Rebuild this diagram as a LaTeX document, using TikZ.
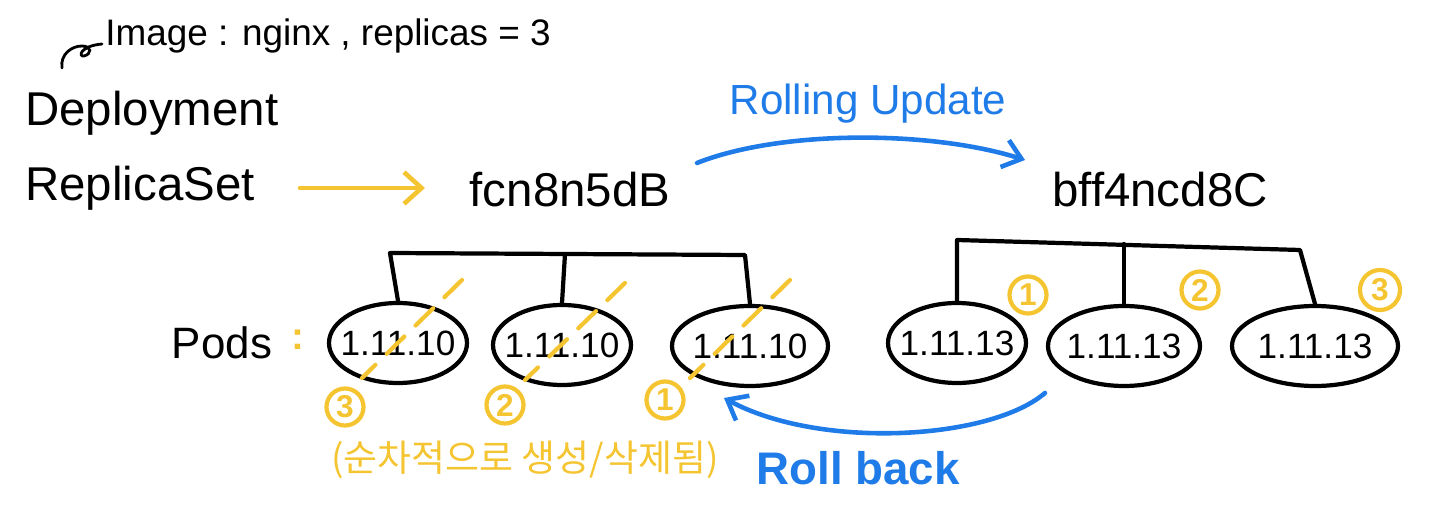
\documentclass[tikz,border=0pt]{standalone}
\usepackage{fontspec}
\setmainfont{Liberation Sans}
\newfontfamily\krfont{Noto Sans CJK KR}
\usetikzlibrary{shapes.geometric,arrows.meta}
\definecolor{hyellow}{HTML}{F5C431}
\definecolor{hblue}{HTML}{1E7BE8}
\newlength{\pxu}
\setlength{\pxu}{0.02cm}
\tikzset{
  lbl/.style={inner sep=0pt, font=\fontsize{27}{30}\selectfont},
  pod/.style={ellipse, draw=black, line width=2.4pt, minimum width=138\pxu, minimum height=80\pxu, inner xsep=-6pt, inner ysep=0pt, font=\fontsize{20}{22}\selectfont},
  tree/.style={draw=black, line width=2.4pt, line cap=round, line join=round},
  ynum/.style={circle, draw=hyellow, line width=2.4pt, text=hyellow, inner sep=0pt, minimum size=37\pxu, font=\bfseries\fontsize{18}{19}\selectfont},
  ydash/.style={draw=hyellow, line width=2.4pt, dash pattern=on 14pt off 9pt, line cap=round},
  barrow/.style={draw=hblue, line width=2.6pt, line cap=round, -{Straight Barb[length=10pt,width=16pt,line width=2.6pt]}},
  yarrow/.style={draw=hyellow, line width=2.6pt, line cap=round, -{Straight Barb[length=10pt,width=18pt,line width=2.6pt]}}
}
\begin{document}
\begin{tikzpicture}[x=0.02cm,y=-0.02cm]
\useasboundingbox (0,0) rectangle (1440,516);
% header
\node[lbl, font=\fontsize{21}{23}\selectfont, anchor=west] (img) at (105,36) {Image : nginx , replicas = 3};
\coordinate (hookA) at (102,44);
\coordinate (hookB) at (62,68);
\draw[black, line width=1.6pt, line cap=round] (hookB) .. controls (60,54) and (72,46) .. (82,46) .. controls (92,46) and (92,54) .. (84,56) .. controls (78,57) and (80,46) .. (hookA);
\node[lbl, anchor=west] (dep) at (25,113) {Deployment};
\node[lbl, anchor=west] (rs) at (25,188) {ReplicaSet};
\node[lbl] (old) at (570,190) {fcn8n5dB};
\node[lbl] (new) at (1160,190) {bff4ncd8C};
\coordinate (ya) at (300,188);
\coordinate (yb) at (425,188);
\draw[yarrow] (ya) -- (yb);
% rolling update
\coordinate (ru1) at (697,163);
\coordinate (ru2) at (1025,160);
\draw[barrow] (ru1) .. controls (780,130) and (930,130) .. (ru2);
\node[lbl, text=hblue, font=\fontsize{24}{26}\selectfont] (rul) at (868,104) {Rolling Update};
% Pods
\node[lbl, font=\fontsize{25}{28}\selectfont] (pods) at (222,343) {Pods};
\node[lbl, text=hyellow, font=\bfseries\fontsize{22}{24}\selectfont] (colon) at (298,340) {:};
% left pods
\node[pod] (p1) at (398,343) {1.11.10};
\node[pod] (p2) at (562,345) {1.11.10};
\node[pod, minimum width=156\pxu] (p3) at (750,346) {1.11.10};
\draw[tree] (p1.north) -- (390,253) -- (745,255) -- (p3.north);
\draw[tree] (565,254) -- (p2.north);
% right pods
\node[pod] (q1) at (957,343) {1.11.13};
\node[pod, minimum width=152\pxu] (q2) at (1124,346) {1.11.13};
\node[pod, minimum width=166\pxu] (q3) at (1315,346) {1.11.13};
\draw[tree] (q1.north) -- (957,240) -- (1300,250) -- (q3.north);
\draw[tree] (1124,244) -- (q2.north);
% right numbers
\node[ynum] (n1) at (1028,295) {1};
\node[ynum] (n2) at (1200,290) {2};
\node[ynum, minimum size=40\pxu] (n3) at (1380,290) {3};
% yellow dashes on left pods
\node[ynum] (m3) at (345,407) {3};
\node[ynum] (m2) at (505,405) {2};
\node[ynum] (m1) at (665,400) {1};
\coordinate (d1a) at (462,280); \coordinate (d1b) at (362,378);
\coordinate (d2a) at (625,283); \coordinate (d2b) at (525,380);
\coordinate (d3a) at (790,280); \coordinate (d3b) at (690,378);
\draw[ydash] (d1a) -- (d1b);
\draw[ydash] (d2a) -- (d2b);
\draw[ydash] (d3a) -- (d3b);
% roll back
\coordinate (rb1) at (1045,393);
\coordinate (rb2) at (724,398);
\draw[barrow] (rb1) .. controls (990,440) and (820,450) .. (rb2);
\node[lbl, text=hblue, font=\bfseries\fontsize{26}{28}\selectfont] (rbl) at (858,468) {Roll back};
\node[lbl, text=hyellow, font=\krfont\fontsize{21}{24}\selectfont] (kr) at (525,460) {(순차적으로 생성/삭제됨)};
\end{tikzpicture}
\end{document}
